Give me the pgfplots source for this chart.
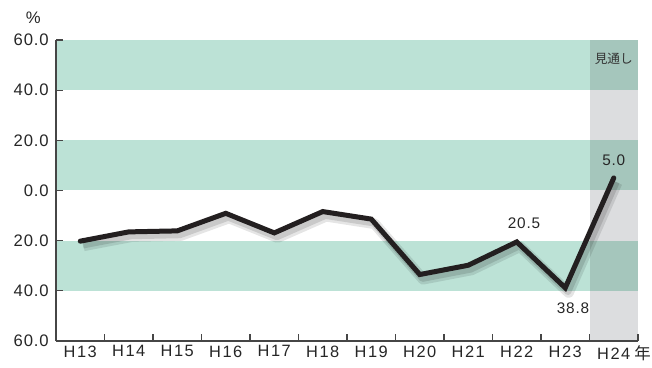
\documentclass[border=0pt]{standalone}
\usepackage{fontspec}
\setmainfont{Liberation Sans}
\newfontfamily\tickfont[LetterSpace=5]{Liberation Sans}
\newfontfamily\xtickfont[LetterSpace=9]{Liberation Sans}
\newfontfamily\cjk{Noto Sans CJK JP}
\usepackage{pgfplots}
\pgfplotsset{compat=1.18}
\definecolor{band}{RGB}{188,226,214}
\definecolor{col}{RGB}{220,221,223}
\definecolor{overlap}{RGB}{165,198,188}
\definecolor{axgray}{RGB}{70,70,70}
\definecolor{linec}{RGB}{35,31,32}
\begin{document}
\begin{tikzpicture}
\begin{axis}[
  scale only axis,
  width=436.5pt, height=225.75pt,
  xmin=-0.5, xmax=11.5, ymin=-60, ymax=60,
  axis lines*=left,
  axis line style={axgray, line width=0.8pt},
  xtick={0.5,1.5,...,11.5},
  xticklabels={H13,H14,H15,H16,H17,H18,H19,H20,H21,H22,H23,{H24\rlap{\hspace{3pt}\cjk 年}}},
  xticklabel style={xshift=-18.19pt, font=\xtickfont\fontsize{12.3}{13}\selectfont, text=black!85},
  ytick={-60,-40,...,60},
  yticklabels={60.0,40.0,20.0,0.0,20.0,40.0,60.0},
  yticklabel style={font=\tickfont\fontsize{12.5}{13}\selectfont, text=black!85, xshift=-2pt},
  tick align=inside,
  major tick length=5.25pt,
  tick style={axgray, line width=0.8pt},
  axis on top,
  clip=false,
]
% green bands
\addplot[fill=band, draw=none] coordinates {(-0.5,40)(10.5,40)(10.5,60)(-0.5,60)} -- cycle;
\addplot[fill=band, draw=none] coordinates {(-0.5,0)(10.5,0)(10.5,20)(-0.5,20)} -- cycle;
\addplot[fill=band, draw=none] coordinates {(-0.5,-40)(10.5,-40)(10.5,-20)(-0.5,-20)} -- cycle;
% forecast column
\addplot[fill=col, draw=none] coordinates {(10.5,-60)(11.5,-60)(11.5,60)(10.5,60)} -- cycle;
\addplot[fill=overlap, draw=none] coordinates {(10.5,40)(11.5,40)(11.5,60)(10.5,60)} -- cycle;
\addplot[fill=overlap, draw=none] coordinates {(10.5,0)(11.5,0)(11.5,20)(10.5,20)} -- cycle;
\addplot[fill=overlap, draw=none] coordinates {(10.5,-40)(11.5,-40)(11.5,-20)(10.5,-20)} -- cycle;
% shadow
\addplot[black, opacity=0.10, line width=8pt, line join=round, xshift=2.5pt, yshift=-3.5pt] table {
x y
0 -20.2
1 -16.5
2 -16.1
3 -9.1
4 -16.9
5 -8.4
6 -11.4
7 -33.5
8 -29.8
9 -20.5
10 -38.8
11 5.0
};
\addplot[black, opacity=0.12, line width=5pt, line join=round, xshift=2pt, yshift=-3pt] table {
x y
0 -20.2
1 -16.5
2 -16.1
3 -9.1
4 -16.9
5 -8.4
6 -11.4
7 -33.5
8 -29.8
9 -20.5
10 -38.8
11 5.0
};
% main line
\addplot[linec, line width=3.75pt, line join=miter, line cap=round] table {
x y
0 -20.2
1 -16.5
2 -16.1
3 -9.1
4 -16.9
5 -8.4
6 -11.4
7 -33.5
8 -29.8
9 -20.5
10 -38.8
11 5.0
};
\node[font=\tickfont\fontsize{11.5}{12}\selectfont, text=black!85] at (axis cs:9.15,-13.0) {20.5};
\node[font=\tickfont\fontsize{11.5}{12}\selectfont, text=black!85] at (axis cs:10.16,-47.1) {38.8};
\node[font=\tickfont\fontsize{11.5}{12}\selectfont, text=black!85] at (axis cs:11.0,12.1) {5.0};
\node[font=\cjk\fontsize{9.5}{10}\selectfont, text=black!80] at (axis cs:11.0,52.5) {見通し};
\node[font=\fontsize{12.5}{13}\selectfont, text=black!85] at ([xshift=-17pt,yshift=17pt]current axis.north west) {\%};
\end{axis}
\pgfresetboundingbox
\path ([xshift=-42pt,yshift=-19.5pt]current axis.south west) rectangle ([xshift=10.5pt,yshift=30pt]current axis.north east);
\end{tikzpicture}
\end{document}
